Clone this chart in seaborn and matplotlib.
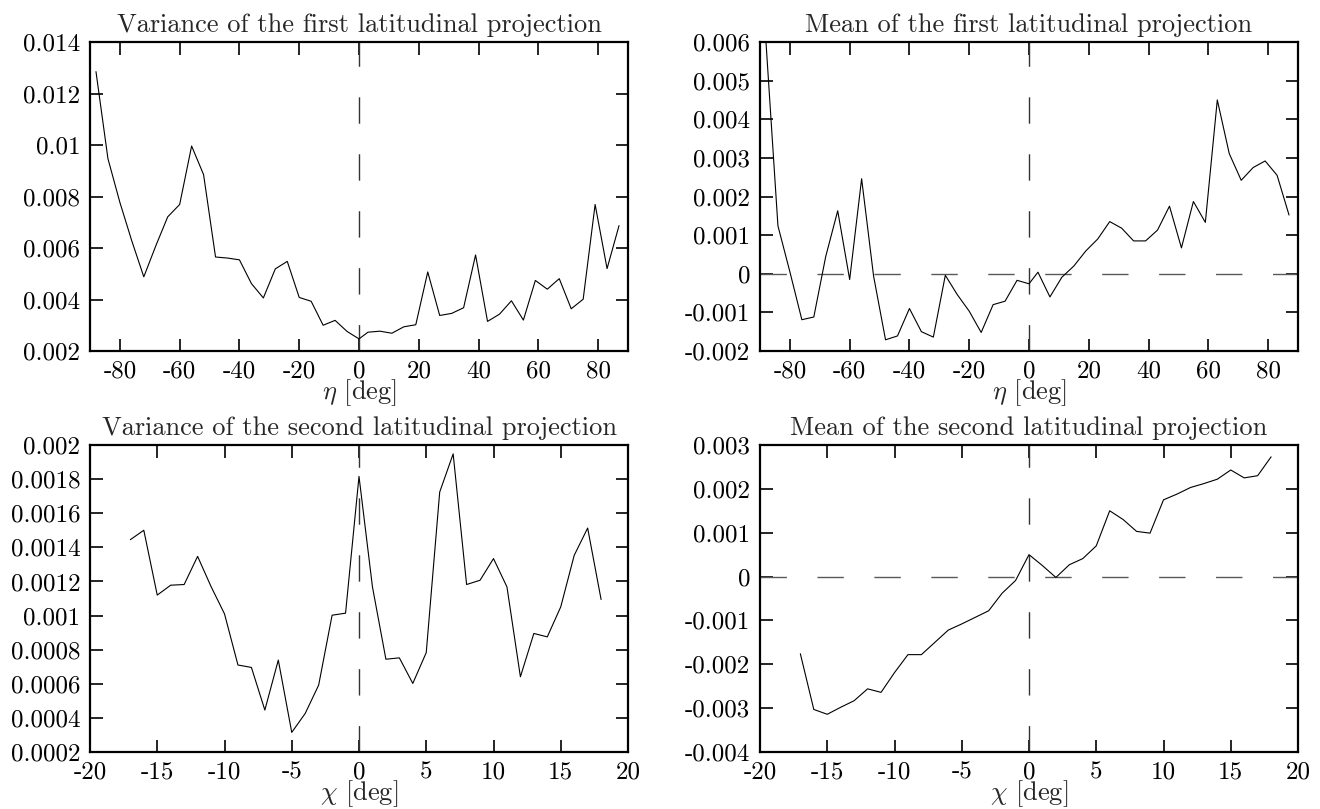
import numpy as np
import seaborn as sns
import matplotlib.pyplot as plt
from matplotlib.ticker import MultipleLocator, FormatStrFormatter

# latitude grid of the first projection (deg)
eta = [-88, -84, -80, -76, -72, -68, -64, -60, -56, -52, -48, -44, -40, -36,
       -32, -28, -24, -20, -16, -12, -8, -4, 0, 3, 7, 11, 15, 19, 23, 27, 31,
       35, 39, 43, 47, 51, 55, 59, 63, 67, 71, 75, 79, 83, 87]
var_eta = [0.01285, 0.00947, 0.00777, 0.00627, 0.00488, 0.00608, 0.00721,
           0.00769, 0.00996, 0.00885, 0.00565, 0.00561, 0.00554, 0.00462,
           0.00406, 0.00519, 0.00548, 0.00408, 0.00393, 0.00300, 0.00319,
           0.00276, 0.00247, 0.00273, 0.00277, 0.00269, 0.00294, 0.00302,
           0.00507, 0.00338, 0.00346, 0.00368, 0.00573, 0.00315, 0.00343,
           0.00395, 0.00320, 0.00474, 0.00440, 0.00481, 0.00364, 0.00401,
           0.00769, 0.00520, 0.00687]
mean_eta = [0.00600, 0.00124, 0.00005, -0.00119, -0.00112, 0.00045, 0.00163,
            -0.00015, 0.00246, -0.00006, -0.00171, -0.00161, -0.00090,
            -0.00150, -0.00164, -0.00004, -0.00054, -0.00097, -0.00152,
            -0.00080, -0.00071, -0.00017, -0.00026, 0.00004, -0.00060,
            -0.00009, 0.00020, 0.00059, 0.00090, 0.00135, 0.00118, 0.00085,
            0.00085, 0.00113, 0.00175, 0.00067, 0.00187, 0.00133, 0.00450,
            0.00311, 0.00242, 0.00275, 0.00292, 0.00255, 0.00152]

# grid of the second projection (deg)
chi = [-17, -16, -15, -14, -13, -12, -11, -10, -9, -8, -7, -6, -5, -4, -3,
       -2, -1, 0, 1, 2, 3, 4, 5, 6, 7, 8, 9, 10, 11, 12, 13, 14, 15, 16, 17, 18]
var_chi = [0.001445, 0.001500, 0.001120, 0.001178, 0.001182, 0.001347,
           0.001170, 0.001010, 0.000710, 0.000696, 0.000446, 0.000739,
           0.000315, 0.000426, 0.000592, 0.001002, 0.001014, 0.001816,
           0.001168, 0.000744, 0.000752, 0.000602, 0.000783, 0.001724,
           0.001948, 0.001182, 0.001207, 0.001334, 0.001168, 0.000641,
           0.000895, 0.000875, 0.001051, 0.001353, 0.001513, 0.001094]
mean_chi = [-0.00176, -0.00303, -0.00314, -0.00298, -0.00283, -0.00256,
            -0.00264, -0.00219, -0.00178, -0.00178, -0.00150, -0.00122,
            -0.00108, -0.00093, -0.00078, -0.00038, -0.00009, 0.00050,
            0.00025, -0.00002, 0.00027, 0.00041, 0.00070, 0.00150, 0.00130,
            0.00103, 0.00099, 0.00175, 0.00188, 0.00203, 0.00212, 0.00222,
            0.00243, 0.00225, 0.00230, 0.00273]

titles = ['Variance of the first latitudinal projection',
          'Mean of the first latitudinal projection',
          'Variance of the second latitudinal projection',
          'Mean of the second latitudinal projection']

sns.set_style('ticks')
plt.rcParams['font.family'] = 'cmr10'
plt.rcParams['mathtext.fontset'] = 'cm'
plt.rcParams['axes.unicode_minus'] = False
plt.rcParams['axes.formatter.use_mathtext'] = False

fig = plt.figure(figsize=(13.2, 8.09), dpi=100)
w = 538 / 1320
positions = [[90 / 1320, 1 - 351 / 809, w, 309 / 809],
             [760 / 1320, 1 - 351 / 809, w, 309 / 809],
             [90 / 1320, 1 - 752 / 809, w, 307 / 809],
             [760 / 1320, 1 - 752 / 809, w, 307 / 809]]

panels = [
    (eta, var_eta, (-90, 90), 20, (0.002, 0.014), 0.002, r'$\eta$ [deg]', False),
    (eta, mean_eta, (-90, 90), 20, (-0.002, 0.006), 0.001, r'$\eta$ [deg]', True),
    (chi, var_chi, (-20, 20), 5, (0.0002, 0.002), 0.0002, r'$\chi$ [deg]', False),
    (chi, mean_chi, (-20, 20), 5, (-0.004, 0.003), 0.001, r'$\chi$ [deg]', True),
]

for pos, title, (x, y, xlim, xstep, ylim, ystep, xlab, zero) in zip(positions, titles, panels):
    ax = fig.add_axes(pos)
    ax.axvline(0, color='0.2', lw=1, dashes=(19, 22), zorder=1)
    if zero:
        ax.axhline(0, color='0.35', lw=1, dashes=(19, 22), zorder=1)
    sns.lineplot(x=x, y=y, ax=ax, color='black', lw=0.8, estimator=None, zorder=3)
    ax.set_xlim(*xlim)
    ax.set_ylim(*ylim)
    ax.xaxis.set_major_locator(MultipleLocator(xstep))
    ax.yaxis.set_major_locator(MultipleLocator(ystep))
    ax.xaxis.set_major_formatter(FormatStrFormatter('%g'))
    ax.yaxis.set_major_formatter(FormatStrFormatter('%g'))
    ax.tick_params(direction='in', length=9, width=1.2, top=True, right=True,
                   labelsize=18, pad=7, color='black', labelcolor='black')
    for s in ax.spines.values():
        s.set_linewidth(1.6)
        s.set_color('black')
    ax.set_title(title, fontsize=19, pad=7)
    ax.set_xlabel(xlab, fontsize=19, labelpad=-4)
    ax.set_ylabel('')

plt.savefig('out.png', dpi=100)
